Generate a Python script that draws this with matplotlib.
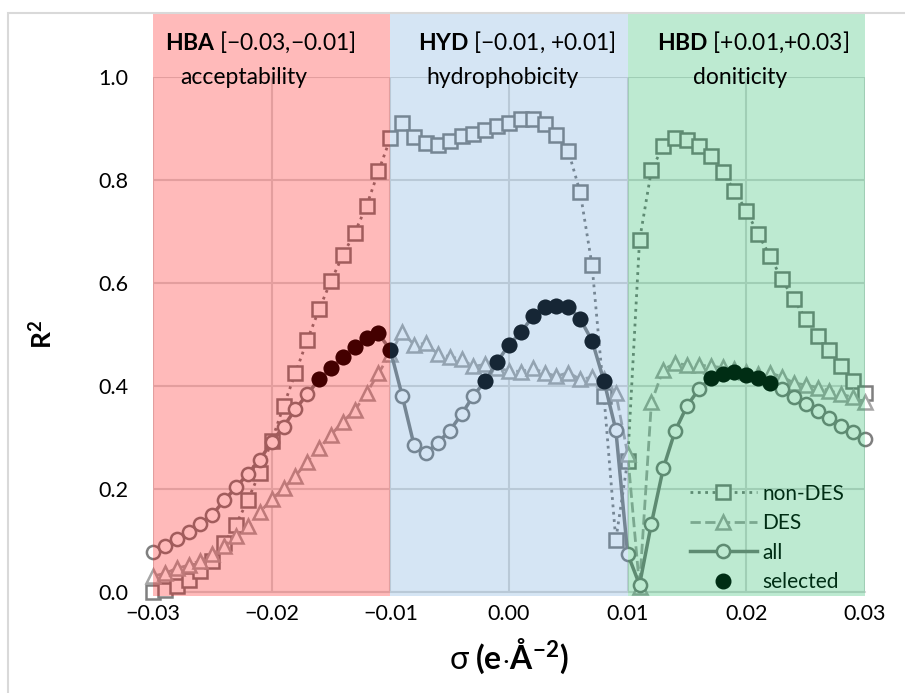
import matplotlib
matplotlib.use("Agg")
import matplotlib.pyplot as plt
from matplotlib.patches import Rectangle
import numpy as np

plt.rcParams['font.family'] = ['Lato', 'DejaVu Sans']
plt.rcParams['mathtext.fontset'] = 'custom'
plt.rcParams['mathtext.rm'] = 'Lato'
plt.rcParams['mathtext.bf'] = 'Lato:bold'
plt.rcParams['mathtext.it'] = 'Lato:italic'

# sigma grid in thousandths of e/A^2
sigma_milli = [-30, -29, -28, -27, -26, -25, -24, -23, -22, -21, -20, -19, -18, -17, -16, -15,
               -14, -13, -12, -11, -10, -9, -8, -7, -6, -5, -4, -3, -2, -1, 0, 1, 2, 3, 4, 5,
               6, 7, 8, 9, 10, 11, 12, 13, 14, 15, 16, 17, 18, 19, 20, 21, 22, 23, 24, 25,
               26, 27, 28, 29, 30]

non_des = [0.000, 0.004, 0.012, 0.023, 0.040, 0.061, 0.095, 0.131, 0.179, 0.232,
           0.293, 0.361, 0.425, 0.489, 0.549, 0.604, 0.654, 0.698, 0.750, 0.817,
           0.881, 0.911, 0.884, 0.871, 0.868, 0.875, 0.885, 0.889, 0.898, 0.904,
           0.911, 0.919, 0.919, 0.909, 0.888, 0.856, 0.776, 0.634, 0.381, 0.101,
           0.255, 0.683, 0.819, 0.866, 0.881, 0.878, 0.866, 0.846, 0.816, 0.779,
           0.740, 0.695, 0.652, 0.607, 0.568, 0.531, 0.497, 0.469, 0.439, 0.410,
           0.387]

des = [0.031, 0.036, 0.046, 0.052, 0.061, 0.073, 0.089, 0.109, 0.128, 0.155,
       0.180, 0.201, 0.225, 0.253, 0.279, 0.305, 0.331, 0.353, 0.386, 0.425,
       0.462, 0.505, 0.480, 0.483, 0.462, 0.457, 0.452, 0.438, 0.442, 0.434,
       0.430, 0.428, 0.434, 0.426, 0.419, 0.426, 0.413, 0.417, 0.413, 0.386,
       0.268, 0.010, 0.368, 0.432, 0.444, 0.441, 0.441, 0.438, 0.436, 0.433,
       0.428, 0.424, 0.425, 0.418, 0.406, 0.402, 0.397, 0.391, 0.384, 0.378,
       0.368]

all_r2 = [0.078, 0.089, 0.102, 0.117, 0.133, 0.150, 0.178, 0.203, 0.230, 0.257,
          0.291, 0.321, 0.355, 0.384, 0.413, 0.434, 0.457, 0.476, 0.493, 0.502,
          0.470, 0.381, 0.285, 0.269, 0.290, 0.313, 0.345, 0.381, 0.410, 0.447,
          0.480, 0.504, 0.535, 0.553, 0.555, 0.554, 0.530, 0.488, 0.410, 0.315,
          0.074, 0.014, 0.133, 0.240, 0.313, 0.361, 0.394, 0.415, 0.423, 0.428,
          0.421, 0.415, 0.406, 0.394, 0.379, 0.366, 0.352, 0.337, 0.322, 0.311,
          0.297]

selected_milli = [-16, -15, -14, -13, -12, -11, -10,
                  -2, -1, 0, 1, 2, 3, 4, 5, 6, 7, 8,
                  17, 18, 19, 20, 21, 22]

xticks = [-0.03, -0.02, -0.01, 0.00, 0.01, 0.02, 0.03]
xtick_labels = ['\u22120.03', '\u22120.02', '\u22120.01', '0.00', '0.01', '0.02', '0.03']
yticks = [0.0, 0.2, 0.4, 0.6, 0.8, 1.0]
ytick_labels = ['0.0', '0.2', '0.4', '0.6', '0.8', '1.0']

region_bounds = [(-0.03, -0.01), (-0.01, 0.01), (0.01, 0.03)]
region_codes = ['HBA', 'HYD', 'HBD']
region_ranges = ['[\u22120.03,\u22120.01]', '[\u22120.01, +0.01]', '[+0.01,+0.03]']
region_names = ['acceptability', 'hydrophobicity', 'doniticity']
region_colors = ['#FF0000', '#5B9BD5', '#00B050']
region_alpha = [0.27, 0.25, 0.26]

sigma = np.array(sigma_milli) / 1000.0
sel = np.isin(sigma_milli, selected_milli)

fig = plt.figure(figsize=(9.05, 6.93), dpi=100)
ax = fig.add_axes([153 / 905, 101 / 693, 712 / 905, 515 / 693])

gray = '#7F7F7F'
light = '#A6A6A6'
ax.plot(sigma, non_des, ls=':', lw=2, color=gray, marker='s', ms=9.5, mew=1.8,
        mfc='white', mec=gray, zorder=3, clip_on=False, label='non-DES')
ax.plot(sigma, des, ls='--', lw=2, color=light, marker='^', ms=9.5, mew=1.8,
        mfc='white', mec=light, zorder=3, clip_on=False, label='DES')
ax.plot(sigma, all_r2, ls='-', lw=2.5, color=gray, marker='o', ms=9.5, mew=1.8,
        mfc='white', mec=gray, zorder=4, clip_on=False, label='all')
ax.plot(sigma[sel], np.array(all_r2)[sel], ls='none', marker='o', ms=10.5,
        color='black', zorder=5, clip_on=False, label='selected')

ax.set_xlim(-0.03, 0.03)
ax.set_ylim(0, 1.0)
ax.set_xticks(xticks)
ax.set_xticklabels(xtick_labels)
ax.set_yticks(yticks)
ax.set_yticklabels(ytick_labels)
ax.tick_params(length=0, labelsize=15.5, colors='black')
ax.tick_params(axis='y', pad=18)
ax.tick_params(axis='x', pad=9)
ax.grid(True, color='#D9D9D9', lw=1.5)
ax.set_axisbelow(True)
for s in ['top', 'right', 'left']:
    ax.spines[s].set_visible(False)
ax.spines['bottom'].set_color('#D9D9D9')
ax.spines['bottom'].set_linewidth(1.5)

ax.set_ylabel('R$^\\mathbf{2}$', fontsize=19, fontweight='bold', labelpad=31)
ax.set_xlabel('$\\mathrm{\\sigma}\\;\\mathbf{(e{\\cdot}\u00c5^{-2})}$', fontsize=23, labelpad=9)

leg = ax.legend(loc='lower right', bbox_to_anchor=(0.985, -0.02), frameon=False,
                fontsize=15, handlelength=3.2, handletextpad=0.25, labelspacing=0.45,
                borderpad=0, numpoints=1)
leg.set_zorder(5)

# translucent coloured bands drawn over the plot
for (lo, hi), c, a in zip(region_bounds, region_colors, region_alpha):
    ax.add_patch(Rectangle((lo, -0.008), hi - lo, 1.13, facecolor=c, alpha=a, lw=0,
                           zorder=10, clip_on=False))

title_x = [-0.02098, 0.00067, 0.02056]
name_x = [-0.02233, -0.00051, 0.01947]
for i in range(3):
    ax.text(title_x[i], 1.068, '$\\mathbf{' + region_codes[i] + '}$ ' + region_ranges[i],
            ha='center', va='center', fontsize=16.5, zorder=20)
    ax.text(name_x[i], 1.0, region_names[i], ha='center', va='center', fontsize=16.5, zorder=20)

fig.patches.append(Rectangle((8 / 905, -0.1), 1.2, 1.1 - 13 / 693, transform=fig.transFigure,
                             fill=False, edgecolor='#D9D9D9', lw=1.5))

fig.savefig('out.png', dpi=100)
